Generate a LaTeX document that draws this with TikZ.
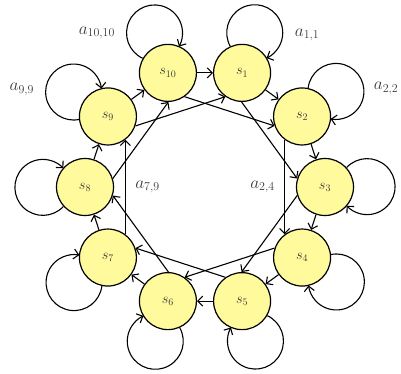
\documentclass[tikz,border=0pt]{standalone}
\usepackage{amsmath}
\usepackage{xcolor}
\usepackage{tikz}
\usetikzlibrary{arrows.meta, calc}
\definecolor{StateFill}{HTML}{FFFA9C}
\definecolor{TextDark}{HTML}{3C3C3C}

\begin{document}
\begin{tikzpicture}[
    state/.style={
      circle, draw=black, fill=StateFill, line width=1.2pt,
      minimum size=57pt, inner sep=0pt, font=\Large, text=TextDark
    },
    arr/.style={-{Straight Barb[length=5pt,width=10pt]}, line width=1.1pt},
    selfloop/.style={arr, radius=28pt},
    lbl/.style={font=\LARGE, text=TextDark}
  ]
    \useasboundingbox (-205pt,-186pt) rectangle (196pt,187pt);

    % States
    \node[state] (s1)  at (72:120pt)   {$s_{1}$};
    \node[state] (s2)  at (36:120pt)   {$s_{2}$};
    \node[state] (s3)  at (0:120pt)    {$s_{3}$};
    \node[state] (s4)  at (-36:120pt)  {$s_{4}$};
    \node[state] (s5)  at (-72:120pt)  {$s_{5}$};
    \node[state] (s6)  at (-108:120pt) {$s_{6}$};
    \node[state] (s7)  at (-144:120pt) {$s_{7}$};
    \node[state] (s8)  at (180:120pt)  {$s_{8}$};
    \node[state] (s9)  at (144:120pt)  {$s_{9}$};
    \node[state] (s10) at (108:120pt)  {$s_{10}$};

    % Self loops (clockwise, pointing away from the ring)
    \draw[selfloop] (s1.114)  arc[start angle=209, end angle=-65];
    \draw[selfloop] (s2.78)   arc[start angle=173, end angle=-101];
    \draw[selfloop] (s3.42)   arc[start angle=137, end angle=-137];
    \draw[selfloop] (s4.6)    arc[start angle=101, end angle=-173];
    \draw[selfloop] (s5.-30)  arc[start angle=65,  end angle=-209];
    \draw[selfloop] (s6.-66)  arc[start angle=29,  end angle=-245];
    \draw[selfloop] (s7.-102) arc[start angle=-7,  end angle=-281];
    \draw[selfloop] (s8.222)  arc[start angle=317, end angle=43];
    \draw[selfloop] (s9.186)  arc[start angle=281, end angle=7];
    \draw[selfloop] (s10.150) arc[start angle=245, end angle=-29];

    % Ring arrows
    \draw[arr] (s1)  -- (s2);
    \draw[arr] (s2)  -- (s3);
    \draw[arr] (s3)  -- (s4);
    \draw[arr] (s4)  -- (s5);
    \draw[arr] (s5)  -- (s6);
    \draw[arr] (s6)  -- (s7);
    \draw[arr] (s7)  -- (s8);
    \draw[arr] (s8)  -- (s9);
    \draw[arr] (s9)  -- (s10);
    \draw[arr] (s10) -- (s1);

    % Skip arrows
    \draw[arr] (s1.-91)  -- (s3.163);
    \draw[arr] (s2.-127) -- node[lbl, left=6pt] {$a_{2,4}$} (s4.127);
    \draw[arr] (s3.-163) -- (s5.91);
    \draw[arr] (s4.161)  -- (s6.55);
    \draw[arr] (s5.125)  -- (s7.19);
    \draw[arr] (s6.89)   -- (s8.-17);
    \draw[arr] (s7.53)   -- node[lbl, right=6pt] {$a_{7,9}$} (s9.-53);
    \draw[arr] (s8.17)   -- (s10.-89);
    \draw[arr] (s9.-19)  -- (s1.-125);
    \draw[arr] (s10.-55) -- (s2.-161);

    % Loop labels
    \node[lbl] (a11)   at ($(s1)+(65pt,38pt)$)   {$a_{1,1}$};
    \node[lbl] (a22)   at ($(s2)+(84pt,28pt)$)   {$a_{2,2}$};
    \node[lbl] (a1010) at ($(s10)+(-71pt,40pt)$) {$a_{10,10}$};
    \node[lbl] (a99)   at ($(s9)+(-86pt,27pt)$)  {$a_{9,9}$};
  \end{tikzpicture}
\end{document}
